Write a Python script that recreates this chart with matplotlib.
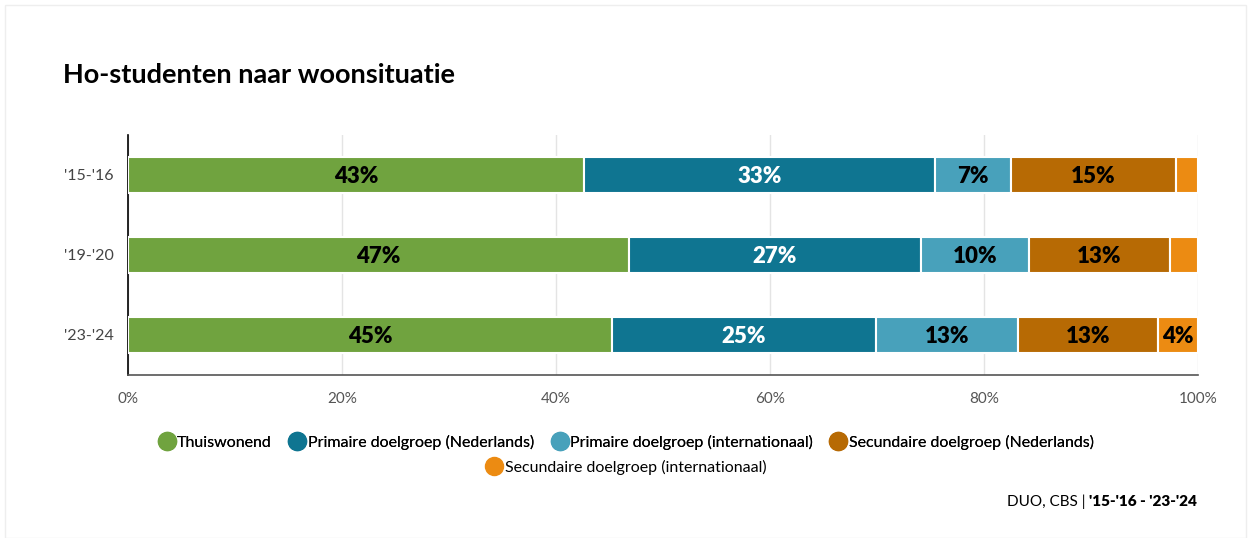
import matplotlib.pyplot as plt
from matplotlib.lines import Line2D
from matplotlib.patches import Rectangle

plt.rcParams['font.family'] = ['Lato', 'DejaVu Sans']

jaren = ["'15-'16", "'19-'20", "'23-'24"]
series = ['Thuiswonend', 'Primaire doelgroep (Nederlands)', 'Primaire doelgroep (internationaal)',
          'Secundaire doelgroep (Nederlands)', 'Secundaire doelgroep (internationaal)']
thuis = [42.6, 46.8, 45.2]
prim_nl = [32.8, 27.3, 24.7]
prim_int = [7.1, 10.1, 13.3]
sec_nl = [15.4, 13.2, 13.1]
sec_int = [2.1, 2.6, 3.7]
kleuren = ['#70a33f', '#0f7591', '#48a1bb', '#b76a04', '#ec8b12']
tekstkleur = ['black', 'white', 'black', 'black', 'black']

waarden = [thuis, prim_nl, prim_int, sec_nl, sec_int]

fig = plt.figure(figsize=(12.51, 5.38), dpi=100)
fig.patches.append(Rectangle((0.004, 0.0), 0.992, 0.99, transform=fig.transFigure,
                             fill=False, edgecolor='#eeeeee', linewidth=1))
ax = fig.add_axes([128 / 1251, 1 - 375 / 538, (1198 - 128) / 1251, 240 / 538])

links = [0, 0, 0]
for i, vals in enumerate(waarden):
    ax.barh(range(len(jaren)), vals, left=links, height=0.46, color=kleuren[i],
            edgecolor='white', linewidth=1.5, zorder=3)
    for j, v in enumerate(vals):
        if v >= 3.5:
            ax.text(links[j] + v / 2, j + 0.02, f'{round(v):.0f}%', ha='center', va='center',
                    fontsize=16, fontweight='heavy', color=tekstkleur[i], zorder=4)
    links = [a + b for a, b in zip(links, vals)]

ax.set_xlim(0, 100)
ax.set_ylim(2.5, -0.5)
ax.set_yticks(range(len(jaren)))
ax.set_yticklabels(jaren, fontsize=11.5, color='#444444')
ax.set_xticks([0, 20, 40, 60, 80, 100])
ax.set_xticklabels(['0%', '20%', '40%', '60%', '80%', '100%'], fontsize=11, color='#555555')
ax.tick_params(length=0, pad=10)
ax.tick_params(axis='x', pad=12)
ax.xaxis.grid(True, color='#e4e4e4', linewidth=1, zorder=0)
ax.spines['top'].set_visible(False)
ax.spines['right'].set_visible(False)
ax.spines['left'].set_color('black')
ax.spines['left'].set_linewidth(1.2)
ax.spines['bottom'].set_color('#555555')
ax.spines['bottom'].set_linewidth(1.2)

fig.text(63 / 1251, 1 - 75 / 538, 'Ho-studenten naar woonsituatie', fontsize=19.5,
         fontweight='bold', va='center', ha='left')

handles = [Line2D([], [], marker='o', linestyle='', markersize=13, color=k) for k in kleuren]
leg1 = fig.legend(handles[:4], series[:4], loc='center', bbox_to_anchor=(0.5, 1 - 442 / 538),
                  ncol=4, frameon=False, fontsize=11.5, handletextpad=0.05, columnspacing=1.0,
                  handlelength=1.2)
fig.legend(handles[4:], series[4:], loc='center', bbox_to_anchor=(0.5, 1 - 467 / 538),
           ncol=1, frameon=False, fontsize=11.5, handletextpad=0.05, handlelength=1.2)
fig.add_artist(leg1)

t = fig.text(1197 / 1251, 1 - 502 / 538, "'15-'16 - '23-'24", fontsize=11, ha='right',
             va='center', fontweight='heavy')
fig.canvas.draw()
bb = t.get_window_extent()
fig.text(bb.x0 / fig.bbox.width, 1 - 502 / 538, 'DUO, CBS | ', fontsize=11, ha='right',
         va='center')

fig.savefig('out.png', dpi=100, facecolor='white')
